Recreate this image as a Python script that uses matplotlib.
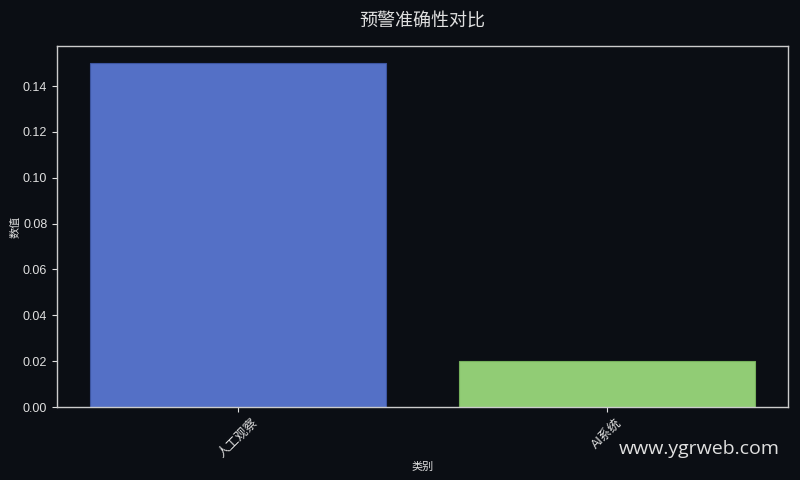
import matplotlib
matplotlib.use("Agg")
import matplotlib.pyplot as plt

categories = ["人工观察", "AI系统"]
values = [0.15, 0.02]
colors = ["#5470c6", "#91cc75"]

bg = "#0b0e14"
fg = "#e0e0e0"

plt.rcParams['font.family'] = ['Liberation Sans', 'Noto Sans CJK SC', 'DejaVu Sans']

fig = plt.figure(figsize=(8, 4.8), dpi=100, facecolor=bg)
ax = fig.add_axes([57/800, 1-407/480, (788-57)/800, (407-46)/480])
ax.set_facecolor(bg)

ax.bar(categories, values, color=colors, width=0.8, edgecolor=["#3d55a0", "#76b05c"], linewidth=0.8)

ax.set_title("预警准确性对比", color=fg, fontsize=13, pad=14,
             family=['Noto Sans CJK SC', 'DejaVu Sans'])
ax.set_xlabel("类别", color=fg, fontsize=8, labelpad=-2,
              family=['Noto Sans CJK SC', 'DejaVu Sans'])
ax.set_ylabel("数值", color=fg, fontsize=8, labelpad=2,
              family=['Noto Sans CJK SC', 'DejaVu Sans'])
ax.xaxis.set_label_coords(0.5, -(462-407)/361)

ax.tick_params(axis='x', colors=fg, labelsize=9, labelrotation=45)
ax.tick_params(axis='y', colors=fg, labelsize=9)
for lab in ax.get_xticklabels():
    lab.set_fontfamily(['Liberation Sans', 'Noto Sans CJK SC'])
for s in ax.spines.values():
    s.set_color("#cccccc")
    s.set_linewidth(1)

fig.text(780/800, 1-449/480, "www.ygrweb.com", color=fg, fontsize=14,
         ha='right', va='center', family='Open Sans')

fig.savefig("out.png", dpi=100, facecolor=bg)
